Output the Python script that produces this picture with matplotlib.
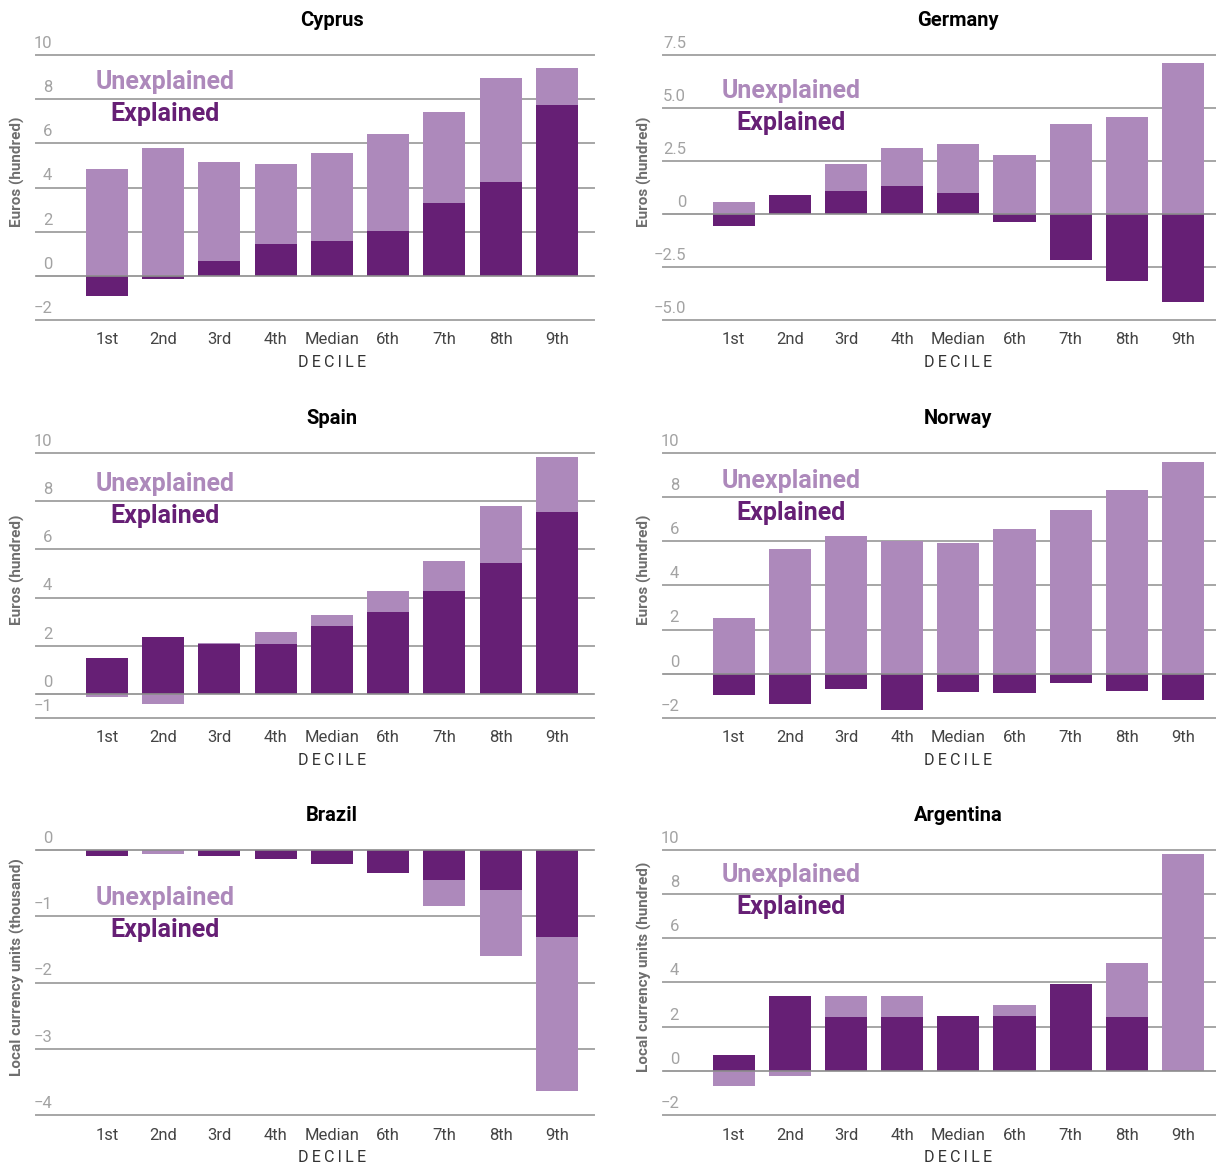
import matplotlib
matplotlib.use('Agg')
import matplotlib.pyplot as plt
import numpy as np

plt.rcParams['font.family'] = ['Roboto', 'DejaVu Sans']

DARK = '#661f75'
LIGHT = '#ad89bb'
GRID = '#a6a6a6'

deciles = ['1st', '2nd', '3rd', '4th', 'Median', '6th', '7th', '8th', '9th']

# values (explained / unexplained part of the gap)
cyprus_explained = [-0.9, -0.15, 0.66, 1.43, 1.56, 2.02, 3.32, 4.27, 7.74]
cyprus_unexplained = [4.86, 5.8, 4.51, 3.65, 4.02, 4.42, 4.11, 4.69, 1.67]

germany_explained = [-0.58, 0.91, 1.10, 1.33, 1.00, -0.39, -2.18, -3.17, -4.15]
germany_unexplained = [0.58, 0.0, 1.27, 1.79, 2.31, 2.79, 4.25, 4.58, 7.12]

spain_explained = [1.50, 2.37, 2.09, 2.08, 2.83, 3.41, 4.28, 5.43, 7.54]
spain_unexplained = [-0.14, -0.43, 0.04, 0.50, 0.45, 0.87, 1.24, 2.36, 2.28]

norway_explained = [-0.96, -1.37, -0.69, -1.64, -0.83, -0.87, -0.42, -0.78, -1.19]
norway_unexplained = [2.54, 5.65, 6.24, 6.00, 5.92, 6.56, 7.41, 8.32, 9.58]

brazil_explained = [-0.085, 0.0, -0.085, -0.14, -0.21, -0.34, -0.45, -0.60, -1.32]
brazil_unexplained = [0.0, -0.055, 0.0, 0.0, 0.0, 0.0, -0.39, -1.00, -2.32]

argentina_explained = [0.71, 3.41, 2.42, 2.42, 2.47, 2.47, 3.91, 2.42, 0.0]
argentina_unexplained = [-0.69, -0.24, 0.99, 0.99, 0.0, 0.49, 0.0, 2.48, 9.82]

ticks_10 = [10, 8, 6, 4, 2, 0, -2]
ticks_10_labels = ['10', '8', '6', '4', '2', '0', '\u22122']
ticks_germany = [7.5, 5.0, 2.5, 0, -2.5, -5.0]
ticks_germany_labels = ['7.5', '5.0', '2.5', '0', '\u22122.5', '\u22125.0']
ticks_spain = [10, 8, 6, 4, 2, 0, -1]
ticks_spain_labels = ['10', '8', '6', '4', '2', '0', '\u22121']
ticks_brazil = [0, -1, -2, -3, -4]
ticks_brazil_labels = ['0', '\u22121', '\u22122', '\u22123', '\u22124']

panels = [
    ('Cyprus', cyprus_explained, cyprus_unexplained, 'Euros (hundred)',
     ticks_10, ticks_10_labels, 0.898),
    ('Germany', germany_explained, germany_unexplained, 'Euros (hundred)',
     ticks_germany, ticks_germany_labels, 0.864),
    ('Spain', spain_explained, spain_unexplained, 'Euros (hundred)',
     ticks_spain, ticks_spain_labels, 0.883),
    ('Norway', norway_explained, norway_unexplained, 'Euros (hundred)',
     ticks_10, ticks_10_labels, 0.894),
    ('Brazil', brazil_explained, brazil_unexplained, 'Local currency units (thousand)',
     ticks_brazil, ticks_brazil_labels, 0.819),
    ('Argentina', argentina_explained, argentina_unexplained, 'Local currency units (hundred)',
     ticks_10, ticks_10_labels, 0.906),
]

W, H = 1216, 1166
fig = plt.figure(figsize=(W / 100, H / 100), dpi=100)

lefts = [36, 663]
widths = [558, 553]
tops = [55, 453, 850]
ax_h = 265

for i, (title, expl, unexpl, ylabel, ticks, tick_labels, leg_y) in enumerate(panels):
    row, col = divmod(i, 2)
    ax = fig.add_axes([lefts[col] / W, 1 - (tops[row] + ax_h) / H,
                       widths[col] / W, ax_h / H])
    expl = np.array(expl)
    unexpl = np.array(unexpl)
    x = np.arange(len(deciles))

    ax.bar(x, expl, width=0.75, color=DARK, zorder=2)
    base = np.where(np.sign(unexpl) == np.sign(expl), expl, 0)
    ax.bar(x, unexpl, bottom=base, width=0.75, color=LIGHT, zorder=2)

    ax.set_ylim(min(ticks), max(ticks))
    ax.set_xlim(-1.26, 8.66 if col == 0 else 8.59)

    for t, lab in zip(ticks, tick_labels):
        if t == 0:
            ax.axhline(t, color='#8c8c8c', lw=1.2, zorder=3, clip_on=False)
        else:
            ax.axhline(t, color=GRID, lw=1.4, zorder=1, clip_on=False)
        xoff = 0.042 if title == 'Germany' else 0.029
        ax.annotate(lab, xy=(xoff, t), xycoords=('axes fraction', 'data'),
                    xytext=(0, 3), textcoords='offset points',
                    ha='right', va='bottom', fontsize=12,
                    color='#a3a3a3')

    ax.set_yticks([])
    ax.set_xticks(x, deciles)
    ax.tick_params(axis='x', length=0, pad=9, labelsize=12, labelcolor='#444444')
    for s in ax.spines.values():
        s.set_visible(False)
    ax.patch.set_alpha(0)

    ax.annotate(title, xy=(4, 1), xycoords=('data', 'axes fraction'),
                xytext=(0, 25), textcoords='offset points',
                ha='center', va='center', fontsize=14.5, fontweight='bold', color='black')
    ax.annotate('\u2009'.join('DECILE'), xy=(4, 0), xycoords=('data', 'axes fraction'),
                xytext=(0, -30.5), textcoords='offset points',
                ha='center', va='center', fontsize=11.5, color='#333333')
    ax.annotate(ylabel, xy=(0, 0.56), xycoords='axes fraction',
                xytext=(-13, 0), textcoords='offset points',
                rotation=90, ha='center', va='center', fontsize=11,
                fontweight='bold', color='#6e6e6e')

    ax.text(0.106, leg_y, 'Unexplained', transform=ax.transAxes,
            ha='left', va='center', fontsize=18, fontweight='bold', color=LIGHT)
    ax.text(0.133, leg_y - 0.121, 'Explained', transform=ax.transAxes,
            ha='left', va='center', fontsize=18, fontweight='bold', color=DARK)

fig.savefig('out.png', dpi=100)
